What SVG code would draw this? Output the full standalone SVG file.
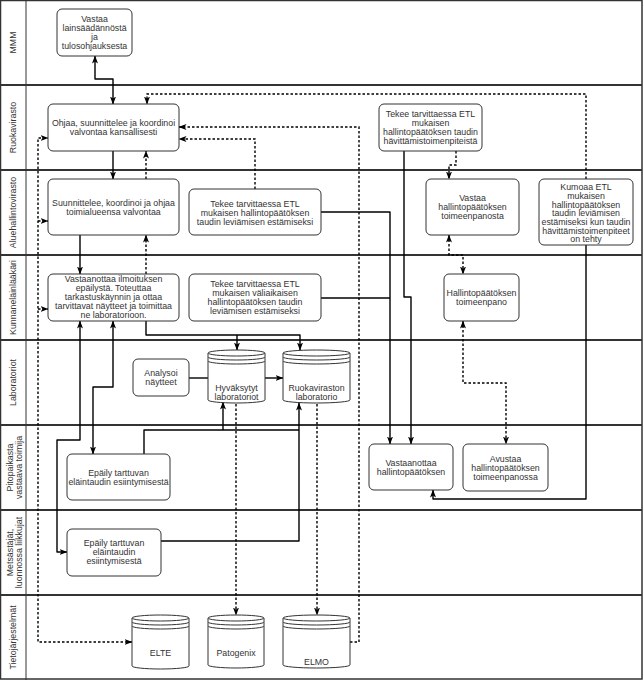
<svg xmlns="http://www.w3.org/2000/svg" width="643" height="680" viewBox="0 0 643 680">
<style>
text{font-family:"Liberation Sans",Arial,sans-serif;font-size:8.8px;fill:#333;text-anchor:middle}
.box{fill:#fff;stroke:#333;stroke-width:1}
.lane{stroke:#333;stroke-width:2;fill:none}
.c{fill:none;stroke:#000;stroke-width:1.4;stroke-linejoin:round}
.d{fill:none;stroke:#000;stroke-width:1.4;stroke-dasharray:2.5 2}
</style>
<defs>
<marker id="a" viewBox="0 0 8 6" refX="7.5" refY="3" markerWidth="8" markerHeight="6" markerUnits="userSpaceOnUse" orient="auto-start-reverse"><path d="M0,0 L8,3 L0,6 L2,3 Z" fill="#000"/></marker>
</defs>
<rect width="643" height="680" fill="#fff"/>
<g id="lanes">
<rect x="0.5" y="0.5" width="641.5" height="678.5" fill="none" stroke="#333" stroke-width="1.5"/>
<line x1="26" y1="0" x2="26" y2="680" stroke="#333" stroke-width="1"/>
<path class="lane" d="M0,85H642M0,170H642M0,255H642M0,340H642M0,425H642M0,510H642M0,595H642"/>
<text transform="translate(13,42.5) rotate(-90)" y="3.2">MMM</text>
<text transform="translate(13,127.5) rotate(-90)" y="3.2">Ruokavirasto</text>
<text transform="translate(13,212.5) rotate(-90)" y="3.2">Aluehallintovirasto</text>
<text transform="translate(13,297.5) rotate(-90)" y="3.2">Kunnaneläinlääkäri</text>
<text transform="translate(13,382.5) rotate(-90)" y="3.2">Laboratoriot</text>
<text transform="translate(14.5,467.5) rotate(-90)"><tspan x="0" y="-1.3">Pitopaikasta</tspan><tspan x="0" y="7.7">vastaava toimija</tspan></text>
<text transform="translate(14.5,552.5) rotate(-90)"><tspan x="0" y="-1.3">Metsästäjät,</tspan><tspan x="0" y="7.7">luonnossa liikkujat</tspan></text>
<text transform="translate(13,637.5) rotate(-90)" y="3.2">Tietojärjestelmät</text>
</g>
<g id="connectors">
<path class="c" d="M95,56V79H113V104" marker-start="url(#a)" marker-end="url(#a)"/>
<path class="c" d="M113,151V179" marker-end="url(#a)"/>
<path class="c" d="M80,235V274" marker-end="url(#a)"/>
<path class="d" d="M146,274V235" marker-end="url(#a)"/>
<path class="d" d="M146,179V151" marker-end="url(#a)"/>
<path class="d" d="M132,642H38V138H48" marker-start="url(#a)" marker-end="url(#a)"/>
<path class="d" d="M38,221H48" marker-end="url(#a)"/>
<path class="d" d="M38,309H48" marker-end="url(#a)"/>
<path class="d" d="M586,179V94H147V104" marker-end="url(#a)"/>
<path class="d" d="M350,642H359V127H179" marker-end="url(#a)"/>
<path class="d" d="M255,189V139H179" marker-end="url(#a)"/>
<path class="d" d="M456,151V165H449V179" marker-end="url(#a)"/>
<path class="d" d="M449,235V255H463V274" marker-start="url(#a)" marker-end="url(#a)"/>
<path class="d" d="M463,321V383H506V444" marker-start="url(#a)" marker-end="url(#a)"/>
<path class="c" d="M586,245V499H433V490" marker-end="url(#a)"/>
<path class="c" d="M404,151V297H411V444" marker-end="url(#a)"/>
<path class="c" d="M321,212H390V444" marker-end="url(#a)"/>
<path class="c" d="M321,298H390"/>
<path class="c" d="M146,321V335H300V350" marker-end="url(#a)"/>
<path class="c" d="M237,335V350" marker-end="url(#a)"/>
<path class="c" d="M189,378H208"/>
<path class="c" d="M265,378H283" marker-end="url(#a)"/>
<path class="c" d="M144,454V430H299"/>
<path class="c" d="M223,430V402" marker-end="url(#a)"/>
<path class="c" d="M161,541H299V403" marker-end="url(#a)"/>
<path class="c" d="M67,552H57V440H80V321" marker-start="url(#a)" marker-end="url(#a)"/>
<path class="c" d="M93,454V387H113V321" marker-start="url(#a)" marker-end="url(#a)"/>
<path class="d" d="M236,404V615" marker-end="url(#a)"/>
<path class="d" d="M317,404V615" marker-end="url(#a)"/>
</g>
<g id="mmm-vastaa">
<rect class="box" x="57" y="9" width="75" height="47" rx="5"/>
<text x="94.5" y="21.8">Vastaa<tspan x="94.5" dy="9.2">lainsäädännöstä</tspan><tspan x="94.5" dy="9.2">ja</tspan><tspan x="94.5" dy="9.2">tulosohjauksesta</tspan></text>
</g>
<g id="ruoka-ohjaa">
<rect class="box" x="48" y="104" width="131" height="47" rx="5"/>
<text x="113.5" y="126.2">Ohjaa, suunnittelee ja koordinoi<tspan x="113.5" dy="9">valvontaa kansallisesti</tspan></text>
</g>
<g id="ruoka-tekee">
<rect class="box" x="379" y="104" width="103" height="47" rx="5"/>
<text x="430.5" y="117.2">Tekee tarvittaessa ETL<tspan x="430.5" dy="9">mukaisen</tspan><tspan x="430.5" dy="9">hallintopäätöksen taudin</tspan><tspan x="430.5" dy="9">hävittämistoimenpiteistä</tspan></text>
</g>
<g id="avi-suunnittelee">
<rect class="box" x="48" y="179" width="131" height="56" rx="5"/>
<text x="113.5" y="206.2">Suunnittelee, koordinoi ja ohjaa<tspan x="113.5" dy="9">toimialueensa valvontaa</tspan></text>
</g>
<g id="avi-tekee">
<rect class="box" x="189" y="189" width="132" height="46" rx="5"/>
<text x="255" y="206.7">Tekee tarvittaessa ETL<tspan x="255" dy="9">mukaisen hallintopäätöksen</tspan><tspan x="255" dy="9">taudin leviämisen estämiseksi</tspan></text>
</g>
<g id="avi-vastaa">
<rect class="box" x="426" y="179" width="93" height="56" rx="5"/>
<text x="472.5" y="201.2">Vastaa<tspan x="472.5" dy="9">hallintopäätöksen</tspan><tspan x="472.5" dy="9">toimeenpanosta</tspan></text>
</g>
<g id="avi-kumoaa">
<rect class="box" x="539" y="179" width="94" height="66" rx="5"/>
<text x="586" y="190.2">Kumoaa ETL<tspan x="586" dy="8.67">mukaisen</tspan><tspan x="586" dy="8.67">hallintopäätöksen</tspan><tspan x="586" dy="8.67">taudin leviämisen</tspan><tspan x="586" dy="8.67">estämiseksi kun taudin</tspan><tspan x="586" dy="8.67">hävittämistoimenpiteet</tspan><tspan x="586" dy="8.67">on tehty</tspan></text>
</g>
<g id="kel-vastaanottaa">
<rect class="box" x="48" y="274" width="131" height="47" rx="5"/>
<text x="113.5" y="282.4">Vastaanottaa ilmoituksen<tspan x="113.5" dy="9">epäilystä. Toteuttaa</tspan><tspan x="113.5" dy="9">tarkastuskäynnin ja ottaa</tspan><tspan x="113.5" dy="9">tarvittavat näytteet ja toimittaa</tspan><tspan x="113.5" dy="9">ne laboratorioon.</tspan></text>
</g>
<g id="kel-tekee">
<rect class="box" x="189" y="274" width="132" height="47" rx="5"/>
<text x="255" y="286.5">Tekee tarvittaessa ETL<tspan x="255" dy="9.1">mukaisen väliaikaisen</tspan><tspan x="255" dy="9.1">hallintopäätöksen taudin</tspan><tspan x="255" dy="9.1">leviämisen estämiseksi</tspan></text>
</g>
<g id="kel-toimeenpano">
<rect class="box" x="444" y="274" width="75" height="47" rx="5"/>
<text x="481.5" y="296.2">Hallintopäätöksen<tspan x="481.5" dy="9">toimeenpano</tspan></text>
</g>
<g id="lab-analysoi">
<rect class="box" x="133" y="359" width="56" height="37" rx="5"/>
<text x="161" y="376.2">Analysoi<tspan x="161" dy="9">näytteet</tspan></text>
</g>
<g id="lab-hyvaksytyt">
<path class="box" d="M208,353 A28.5,3 0 0 1 265,353 V400 A28.5,3 0 0 1 208,400 Z"/>
<path class="box" fill="none" d="M208,353 A28.5,3 0 0 0 265,353 M208,357 A28.5,3 0 0 0 265,357 M208,361 A28.5,3 0 0 0 265,361"/>
<text x="236.5" y="391.2">Hyväksytyt<tspan x="236.5" dy="9">laboratoriot</tspan></text>
</g>
<g id="lab-ruokavirasto">
<path class="box" d="M283,353 A33.5,3 0 0 1 350,353 V400 A33.5,3 0 0 1 283,400 Z"/>
<path class="box" fill="none" d="M283,353 A33.5,3 0 0 0 350,353 M283,357 A33.5,3 0 0 0 350,357 M283,361 A33.5,3 0 0 0 350,361"/>
<text x="316.5" y="391.2">Ruokaviraston<tspan x="316.5" dy="9">laboratorio</tspan></text>
</g>
<g id="pito-epaily">
<rect class="box" x="67" y="454" width="103" height="46" rx="5"/>
<text x="118.5" y="476.2">Epäily tarttuvan<tspan x="118.5" dy="8.8">eläintaudin esiintymisestä</tspan></text>
</g>
<g id="pito-vastaanottaa">
<rect class="box" x="369" y="444" width="84" height="46" rx="5"/>
<text x="411" y="465.5">Vastaanottaa<tspan x="411" dy="9">hallintopäätöksen</tspan></text>
</g>
<g id="pito-avustaa">
<rect class="box" x="463" y="444" width="85" height="47" rx="5"/>
<text x="505.5" y="462.2">Avustaa<tspan x="505.5" dy="8.7">hallintopäätöksen</tspan><tspan x="505.5" dy="8.7">toimeenpanossa</tspan></text>
</g>
<g id="mets-epaily">
<rect class="box" x="67" y="529" width="94" height="47" rx="5"/>
<text x="114" y="546.2">Epäily tarttuvan<tspan x="114" dy="9">eläintaudin</tspan><tspan x="114" dy="9">esiintymisestä</tspan></text>
</g>
<g id="ts-elte">
<path class="box" d="M132,618 A28.5,3 0 0 1 189,618 V666 A28.5,3 0 0 1 132,666 Z"/>
<path class="box" fill="none" d="M132,618 A28.5,3 0 0 0 189,618 M132,622 A28.5,3 0 0 0 189,622 M132,626 A28.5,3 0 0 0 189,626"/>
<text x="160.5" y="656.2">ELTE</text>
</g>
<g id="ts-patogenix">
<path class="box" d="M208,618 A28,3 0 0 1 264,618 V665 A28,3 0 0 1 208,665 Z"/>
<path class="box" fill="none" d="M208,618 A28,3 0 0 0 264,618 M208,622 A28,3 0 0 0 264,622 M208,626 A28,3 0 0 0 264,626"/>
<text x="236" y="656.2">Patogenix</text>
</g>
<g id="ts-elmo">
<path class="box" d="M283,618 A33.5,3 0 0 1 350,618 V665 A33.5,3 0 0 1 283,665 Z"/>
<path class="box" fill="none" d="M283,618 A33.5,3 0 0 0 350,618 M283,622 A33.5,3 0 0 0 350,622 M283,626 A33.5,3 0 0 0 350,626"/>
<text x="316.5" y="665">ELMO</text>
</g>
</svg>
